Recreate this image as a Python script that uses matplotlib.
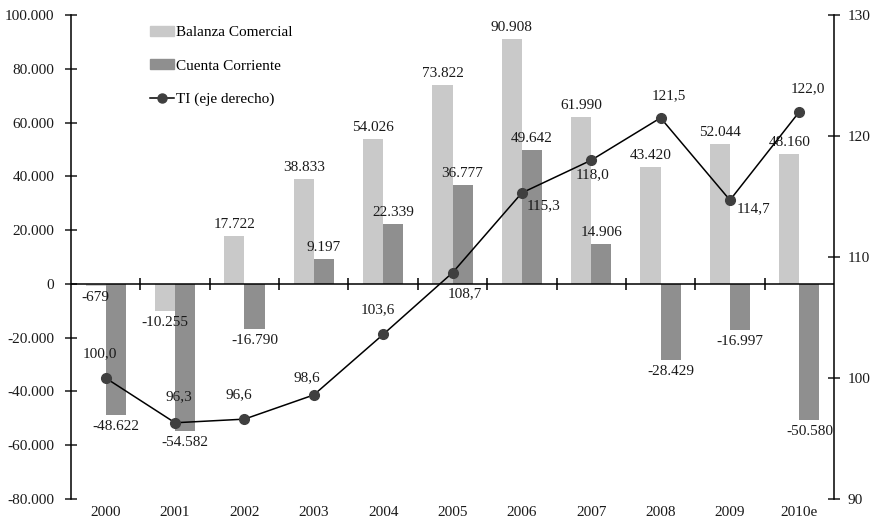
import matplotlib
matplotlib.use("Agg")
import matplotlib.pyplot as plt
import numpy as np
from matplotlib.patches import Patch
from matplotlib.lines import Line2D
from matplotlib.ticker import FuncFormatter

plt.rcParams['font.family'] = ['Liberation Serif', 'DejaVu Serif']
plt.rcParams['font.size'] = 11

# Data
years = ["2000", "2001", "2002", "2003", "2004", "2005", "2006", "2007", "2008", "2009", "2010e"]
balanza = [-679, -10255, 17722, 38833, 54026, 73822, 90908, 61990, 43420, 52044, 48160]
cuenta = [-48622, -54582, -16790, 9197, 22339, 36777, 49642, 14906, -28429, -16997, -50580]
ti = [100.0, 96.3, 96.6, 98.6, 103.6, 108.7, 115.3, 118.0, 121.5, 114.7, 122.0]

# Label offsets for the index line (pixels: dx right, dy up)
ti_offsets = [(-6, 24), (4, 26), (-6, 24), (-7, 17), (-5, 25), (12, -21),
              (22, -13), (1, -14), (8, 22), (24, -9), (9, 23)]

light = "#c9c9c9"
dark = "#8f8f8f"
txt = "#1a1a1a"

fig = plt.figure(figsize=(8.76, 5.28), dpi=100)
ax = fig.add_axes([71 / 876, 1 - 499 / 528, (834 - 71) / 876, (499 - 15) / 528])
ax2 = ax.twinx()

x = np.arange(len(years))
w = 0.29
ax.bar(x - w / 2, balanza, w, color=light, zorder=2)
ax.bar(x + w / 2, cuenta, w, color=dark, zorder=2)

ax.set_xlim(-0.5, len(years) - 0.5)
ax.set_ylim(-80000, 100000)
ax.set_yticks(np.arange(-80000, 100001, 20000))
ax.yaxis.set_major_formatter(FuncFormatter(lambda v, p: f"{int(v):,}".replace(",", ".")))

def fmt(v):
    return f"{v:,}".replace(",", ".")

for xs, vals in ((x - w / 2, balanza), (x + w / 2, cuenta)):
    for xi, v in zip(xs, vals):
        if v >= 0:
            ax.annotate(fmt(v), (xi, v), xytext=(0, 5), textcoords="offset pixels",
                        ha="center", va="bottom", color=txt, zorder=5)
        else:
            ax.annotate(fmt(v), (xi, v), xytext=(0, -5), textcoords="offset pixels",
                        ha="center", va="top", color=txt, zorder=5)

# Category axis drawn at zero with ticks between categories
ax.axhline(0, color="black", lw=1.1, zorder=3)
ax.plot(np.arange(len(years) - 1) + 0.5, np.zeros(len(years) - 1), ls="none",
        marker="|", ms=9, mew=1.1, color="black", zorder=3, clip_on=False)

ax.set_xticks(x)
ax.set_xticklabels(years)
ax.tick_params(axis="x", length=0, pad=5, colors=txt)
ax.tick_params(axis="y", direction="inout", length=8, width=1.1, pad=8, colors=txt)
for s in ("top", "bottom", "right"):
    ax.spines[s].set_visible(False)
ax.spines["left"].set_linewidth(1.1)

# Index line on secondary axis
ax2.set_ylim(90, 130)
ax2.set_yticks([90, 100, 110, 120, 130])
ax2.plot(x, ti, color="black", lw=1.1, marker="o", ms=7, mfc="#3f3f3f", mec="#3f3f3f", zorder=4)
for xi, v, (dx, dy) in zip(x, ti, ti_offsets):
    ax2.annotate(f"{v:.1f}".replace(".", ","), (xi, v), xytext=(dx, dy),
                 textcoords="offset pixels", ha="center", va="center", color=txt)
ax2.tick_params(axis="y", direction="inout", length=8, width=1.1, pad=6, colors=txt)
for s in ("top", "bottom", "left"):
    ax2.spines[s].set_visible(False)
ax2.spines["right"].set_linewidth(1.1)

handles = [Patch(color=light), Patch(color=dark),
           Line2D([0], [0], color="black", lw=1.1, marker="o", ms=6.5, mfc="#3f3f3f", mec="#3f3f3f")]
labels = ["Balanza Comercial", "Cuenta Corriente", "TI (eje derecho)"]
fig.legend(handles, labels, loc="upper left", bbox_to_anchor=(150 / 876, 1 - 26 / 528),
           frameon=False, handlelength=1.6, handleheight=0.6, handletextpad=0.1,
           labelspacing=1.32, borderpad=0, borderaxespad=0)

fig.savefig("out.png", dpi=100)
